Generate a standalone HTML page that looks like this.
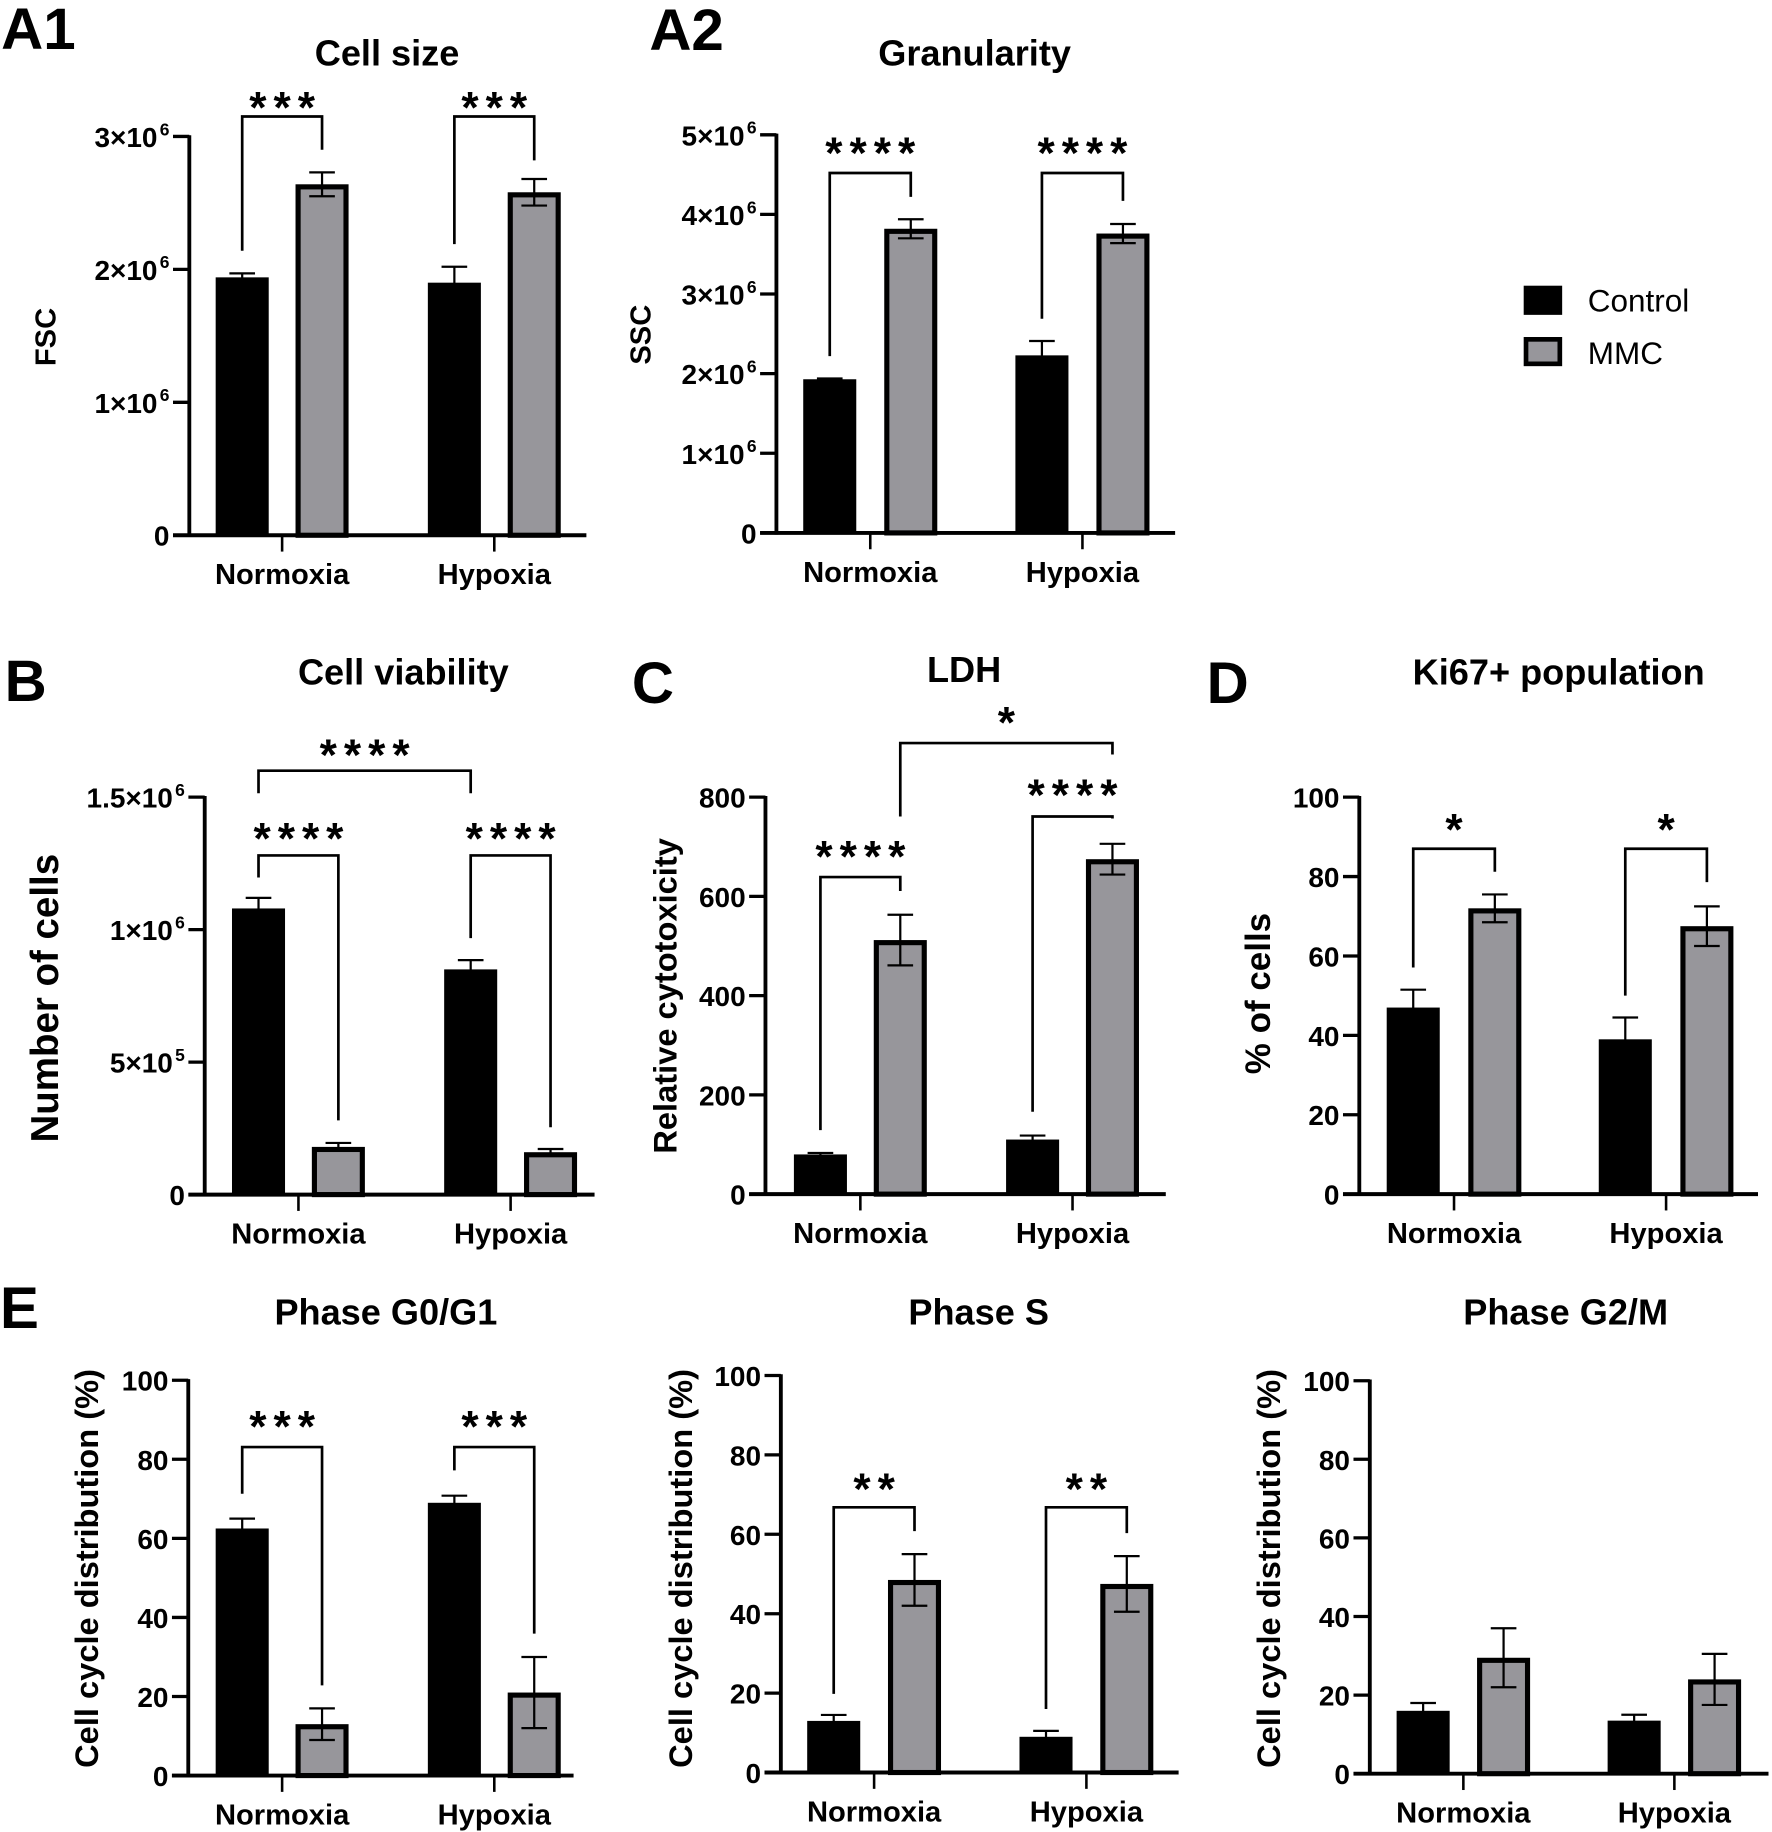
<!DOCTYPE html>
<html><head><meta charset="utf-8"><style>
html,body{margin:0;padding:0;background:#fff}
svg{display:block}
text{font-family:"Liberation Sans",Arial,sans-serif;fill:#000}
</style></head><body>
<svg id="fig" xmlns="http://www.w3.org/2000/svg" width="1772" height="1832" viewBox="0 0 1520 1571" preserveAspectRatio="none"></svg>
<script>
const cats=['Normoxia','Hypoxia'];
// A1 Cell size (x10^6)
const a1Ctrl=[1.94,1.90], a1CtrlErr=[0.03,0.12], a1Mmc=[2.64,2.58], a1MmcErr=[0.09,0.10];
const a1Ticks=[0,1,2,3], a1TickLabels=['0','1×10','2×10','3×10'], a1TickExp=['','6','6','6'];
// A2 Granularity (x10^6)
const a2Ctrl=[1.93,2.23], a2CtrlErr=[0.01,0.18], a2Mmc=[3.82,3.76], a2MmcErr=[0.12,0.12];
const a2Ticks=[0,1,2,3,4,5], a2TickLabels=['0','1×10','2×10','3×10','4×10','5×10'], a2TickExp=['','6','6','6','6','6'];
// B Cell viability (x10^6)
const bCtrl=[1.08,0.85], bCtrlErr=[0.04,0.035], bMmc=[0.18,0.16], bMmcErr=[0.015,0.012];
const bTicks=[0,0.5,1,1.5], bTickLabels=['0','5×10','1×10','1.5×10'], bTickExp=['','5','6','6'];
// C LDH
const cCtrl=[80,110], cCtrlErr=[3,8], cMmc=[512,675], cMmcErr=[51,31];
const cTicks=[0,200,400,600,800], cTickLabels=['0','200','400','600','800'], cTickExp=['','','','',''];
// D Ki67
const dCtrl=[47,39], dCtrlErr=[4.5,5.5], dMmc=[72,67.5], dMmcErr=[3.5,5];
const pctTicks=[0,20,40,60,80,100], pctTickLabels=['0','20','40','60','80','100'], pctTickExp=['','','','','',''];
// E
const e1Ctrl=[62.5,69], e1CtrlErr=[2.5,1.8], e1Mmc=[13,21], e1MmcErr=[4,9];
const e2Ctrl=[13,9], e2CtrlErr=[1.5,1.5], e2Mmc=[48.5,47.5], e2MmcErr=[6.5,7];
const e3Ctrl=[16,13.5], e3CtrlErr=[2,1.5], e3Mmc=[29.5,24], e3MmcErr=[7.5,6.5];
// significance: [fromGroup, fromSeries, toGroup, toSeries, topValue, leftEndValue, rightEndValue, label, starValue]
const a1Sig=[[0,0,0,1,3.15,2.14,2.9,'***',3.29],[1,0,1,1,3.15,2.19,2.82,'***',3.29]];
const a2Sig=[[0,0,0,1,4.52,2.22,4.22,'****',4.89],[1,0,1,1,4.52,2.69,4.17,'****',4.89]];
const bSig=[[0,0,1,0,1.60,1.515,1.515,'****',1.695],[0,0,0,1,1.28,1.197,0.28,'****',1.38],[1,0,1,1,1.28,0.968,0.254,'****',1.38]];
const cSig=[[0,1,1,1,909,761,886,'*',970],[0,0,0,1,639,129,611,'****',700],[1,0,1,1,761,166,757,'****',823]];
const dSig=[[0,0,0,1,87.0,57.1,81.2,'*',94.2],[1,0,1,1,87.0,50.0,78.6,'*',94.2]];
const e1Sig=[[0,0,0,1,83.1,71.3,22.8,'***',90.7],[1,0,1,1,83.1,77.2,35.9,'***',90.7]];
const e2Sig=[[0,0,0,1,66.8,19.8,60.8,'**',73.8],[1,0,1,1,66.8,16,60.3,'**',73.8]];
const e3Sig=[];

const NS='http://www.w3.org/2000/svg';
const svg=document.getElementById('fig');
function mk(tag,attrs,parent){const e=document.createElementNS(NS,tag);for(const k in attrs)e.setAttribute(k,attrs[k]);(parent||svg).appendChild(e);return e;}
function txt(s,attrs,parent){const e=mk('text',attrs,parent);e.textContent=s;return e;}

const panels=[
 {id:'a1',ax:162.4,y0:459,yTop:117,max:3,end:503,lefts:[185,367],off:68.5,ctrl:a1Ctrl,ce:a1CtrlErr,mmc:a1Mmc,me:a1MmcErr,ticks:a1Ticks,tl:a1TickLabels,te:a1TickExp,sig:a1Sig,
  title:'Cell size',tx:332,ty:56,letter:'A1',lx:1,ly:42,yt:'FSC',ytx:38.6,yty:289,yfs:25},
 {id:'a2',ax:666,y0:457,yTop:115.6,max:5,end:1008,lefts:[689,871],off:69.5,ctrl:a2Ctrl,ce:a2CtrlErr,mmc:a2Mmc,me:a2MmcErr,ticks:a2Ticks,tl:a2TickLabels,te:a2TickExp,sig:a2Sig,
  title:'Granularity',tx:836,ty:56,letter:'A2',lx:557,ly:43,yt:'SSC',ytx:549,yty:287,yfs:25},
 {id:'b',ax:175.6,y0:1024.4,yTop:683.6,max:1.5,end:510,lefts:[199,381],off:68.5,ctrl:bCtrl,ce:bCtrlErr,mmc:bMmc,me:bMmcErr,ticks:bTicks,tl:bTickLabels,te:bTickExp,sig:bSig,
  title:'Cell viability',tx:346,ty:587,letter:'B',lx:4,ly:601,yt:'Number of cells',ytx:37.7,yty:856,yfs:33},
 {id:'c',ax:656.6,y0:1024,yTop:683.6,max:800,end:1000,lefts:[681,863],off:68.5,ctrl:cCtrl,ce:cCtrlErr,mmc:cMmc,me:cMmcErr,ticks:cTicks,tl:cTickLabels,te:cTickExp,sig:cSig,
  title:'LDH',tx:827,ty:585,letter:'C',lx:542,ly:603,yt:'Relative cytotoxicity',ytx:570,yty:854,yfs:28},
 {id:'d',ax:1166,y0:1024,yTop:683.6,max:100,end:1508,lefts:[1189.5,1371.4],off:70,ctrl:dCtrl,ce:dCtrlErr,mmc:dMmc,me:dMmcErr,ticks:pctTicks,tl:pctTickLabels,te:pctTickExp,sig:dSig,
  title:'Ki67+ population',tx:1337,ty:587,letter:'D',lx:1035,ly:603,yt:'% of cells',ytx:1078.5,yty:852,yfs:30},
 {id:'e1',ax:161.5,y0:1522.6,yTop:1183.6,max:100,end:492,lefts:[185,367],off:68.5,ctrl:e1Ctrl,ce:e1CtrlErr,mmc:e1Mmc,me:e1MmcErr,ticks:pctTicks,tl:pctTickLabels,te:pctTickExp,sig:e1Sig,
  title:'Phase G0/G1',tx:331,ty:1136,letter:'E',lx:0,ly:1139,yt:'Cell cycle distribution (%)',ytx:74,yty:1345,yfs:28},
 {id:'e2',ax:669.8,y0:1520,yTop:1179.5,max:100,end:1011,lefts:[692.4,874.5],off:69.3,ctrl:e2Ctrl,ce:e2CtrlErr,mmc:e2Mmc,me:e2MmcErr,ticks:pctTicks,tl:pctTickLabels,te:pctTickExp,sig:e2Sig,
  title:'Phase S',tx:839.5,ty:1136,letter:null,yt:'Cell cycle distribution (%)',ytx:583.5,yty:1345,yfs:28},
 {id:'e3',ax:1175,y0:1521,yTop:1184,max:100,end:1517,lefts:[1198,1379],off:69,ctrl:e3Ctrl,ce:e3CtrlErr,mmc:e3Mmc,me:e3MmcErr,ticks:pctTicks,tl:pctTickLabels,te:pctTickExp,sig:e3Sig,
  title:'Phase G2/M',tx:1343,ty:1136,letter:null,yt:'Cell cycle distribution (%)',ytx:1088,yty:1345,yfs:28}
];
const BW=45.5;
function draw(p){
  const g=mk('g',{});
  
  
  const Y=v=>p.y0-(v/p.max)*(p.y0-p.yTop);
  const barX=(gi,s)=>p.lefts[gi]+(s?p.off:0);
  const cx=(gi,s)=>barX(gi,s)+BW/2;
  const t=txt(p.title,{x:p.tx,y:p.ty,'text-anchor':'middle','font-size':31,'font-weight':'bold'},g);
  
  
  if(p.letter){const l=txt(p.letter,{x:p.lx,y:p.ly,'font-size':50,'font-weight':'bold'},g);
    
    }
  const bx=p.ytx+0.36*p.yfs;
  const yt=txt(p.yt,{x:0,y:0,'text-anchor':'middle','font-size':p.yfs,'font-weight':'bold',transform:`translate(${bx},${p.yty}) rotate(-90)`},g);
  
  
  for(let gi=0;gi<2;gi++){
    const c=p.ctrl[gi], m=p.mmc[gi];
    const r1=mk('rect',{x:barX(gi,0),y:Y(c),width:BW,height:p.y0-Y(c),fill:'#000'},g);
    
    
    const r2=mk('rect',{x:barX(gi,1)+2.2,y:Y(m)+2.2,width:BW-4.4,height:p.y0-Y(m)-2.2,fill:'#97969b',stroke:'#000','stroke-width':4.4},g);
    
    
    [[c,p.ce[gi],0],[m,p.me[gi],1]].forEach(([v,e,s])=>{
      const x=cx(gi,s);
      const eb=mk('path',{d:`M${x},${Y(v-e)}V${Y(v+e)}M${x-11},${Y(v+e)}H${x+11}M${x-11},${Y(v-e)}H${x+11}`,stroke:'#000','stroke-width':1.9,fill:'none'},g);
      
      
    });
    const tx=(barX(gi,0)+barX(gi,1)+BW)/2;
    mk('line',{x1:tx,x2:tx,y1:p.y0,y2:p.y0+14,stroke:'#000','stroke-width':2.2},g);
    const cl=txt(cats[gi],{x:tx,y:p.y0+42,'text-anchor':'middle','font-size':25,'font-weight':'bold'},g);
    
    
  }
  const ya=mk('line',{x1:p.ax,x2:p.ax,y1:p.yTop-1,y2:p.y0+1.5,stroke:'#000','stroke-width':3.3},g);
  
  
  const xa=mk('line',{x1:p.ax-14,x2:p.end,y1:p.y0,y2:p.y0,stroke:'#000','stroke-width':3.4},g);
  
  
  p.ticks.forEach((v,i)=>{
    const y=Y(v);
    mk('line',{x1:p.ax-14,x2:p.ax,y1:y,y2:y,stroke:'#000','stroke-width':2.8},g);
    const tl=txt('',{x:p.ax-17,y:y+9,'text-anchor':'end','font-size':24,'font-weight':'bold'},g);
    
    
    const s1=mk('tspan',{},tl); s1.textContent=p.tl[i];
    if(p.te[i]){const s2=mk('tspan',{dy:-10,'font-size':15,dx:2},tl); s2.textContent=p.te[i];}
  });
  p.sig.forEach(s=>{
    const x1=cx(s[0],s[1]), x2=cx(s[2],s[3]), yt=Y(s[4]);
    const br=mk('path',{d:`M${x1},${Y(s[5])}V${yt}H${x2}V${Y(s[6])}`,stroke:'#000','stroke-width':2.3,fill:'none'},g);
    
    
    const st=txt(s[7],{x:(x1+x2)/2+3,y:Y(s[8])+21,'text-anchor':'middle','font-size':38,'font-weight':'bold','letter-spacing':6},g);
    
    
  });
}
panels.forEach(draw);
const lg=mk('g',{});


const lc=mk('rect',{x:1307,y:245,width:33,height:25,fill:'#000'},lg);


const lm=mk('rect',{x:1309,y:291,width:29,height:21,fill:'#97969b',stroke:'#000','stroke-width':4},lg);


const lt1=txt('Control',{x:1362,y:267,'font-size':27},lg);


const lt2=txt('MMC',{x:1362,y:312,'font-size':27},lg);


</script>
</body></html>
